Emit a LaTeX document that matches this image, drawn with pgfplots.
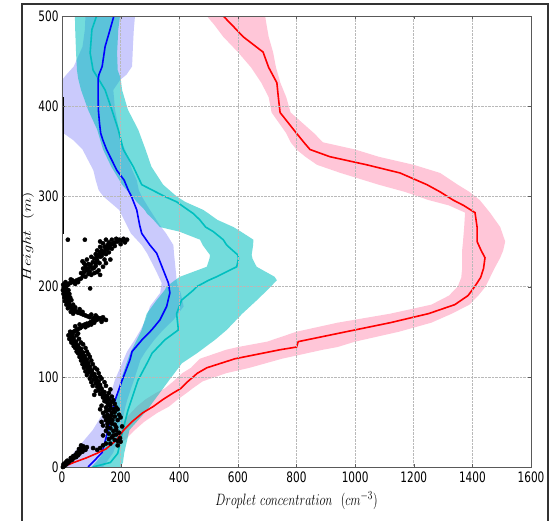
\documentclass[border=0pt]{standalone}
\usepackage{fontspec}
\usepackage{pgfplots}
\pgfplotsset{compat=1.18}
\usepackage{pgfplotstable}
\newfontfamily\dejavu{DejaVu Sans}
\definecolor{cy}{rgb}{0,0.75,0.75}
\definecolor{pinkband}{RGB}{255,198,216}
\definecolor{lav}{RGB}{202,202,252}

% mean profiles (y = height, c = concentration)
\pgfplotstableread{
y c
0 3
5 40
10 82
15 118
20 150
25 168
30 186
40 208
50 238
60 275
67 311
75 345
82 379
87 405
95 430
104 462
110 494
120 590
130 744
133 800
139 806
150 970
160 1120
170 1250
180 1340
190 1385
200 1408
210 1428
220 1438
232 1443
240 1430
250 1416
266 1416
282 1409
290 1370
296 1334
305 1290
313 1245
326 1153
335 1040
344 914
352 846
360 825
370 800
393 744
410 738
426 733
443 705
460 686
477 618
490 580
500 550
}\redtab

\pgfplotstableread{
y c
0 89
16 137
41 157
65 174
74 181
96 205
119 232
128 239
141 273
152 306
163 334
178 357
193 368
204 363
218 346
237 323
246 300
259 272
268 265
285 255
300 237
307 226
318 212
329 187
352 152
362 140
370 132
381 128
396 124
418 123
429 123
435 126
444 137
466 147
485 164
500 177
}\bluetab

\pgfplotstableread{
y c
0 105
5 165
15 190
41 208
63 225
96 259
115 290
126 307
141 351
152 397
170 391
185 408
196 448
200 460
207 500
211 528
222 596
231 602
235 600
246 562
252 550
261 516
266 490
274 470
281 448
285 430
294 391
300 350
313 272
333 243
352 209
374 192
396 170
418 147
431 123
440 106
459 96
485 102
500 118
}\cyantab

% spread bands: lower bound upwards, then upper bound downwards
\pgfplotstableread{
x y
0 0
15 5
50 10
85 15
120 20
145 25
160 30
185 40
205 50
235 60
255 67
285 75
320 82
350 87
380 95
410 104
440 110
470 120
560 130
600 133
700 139
800 150
940 160
1120 170
1260 180
1320 190
1350 200
1362 210
1365 220
1365 232
1365 240
1368 250
1372 266
1375 282
1320 290
1250 296
1170 305
1080 313
950 326
870 335
830 344
800 352
780 360
765 370
715 393
705 410
680 426
645 443
600 460
550 477
520 490
494 500
693 500
698 490
705 477
720 460
730 443
745 426
765 410
780 393
860 370
890 360
1000 352
1080 344
1200 335
1290 326
1350 313
1390 305
1425 296
1440 290
1460 282
1495 266
1512 250
1505 240
1495 232
1475 220
1460 210
1445 200
1420 190
1390 180
1330 170
1260 160
1150 150
1000 139
940 133
890 130
750 120
640 110
560 104
480 95
445 87
425 82
395 75
365 67
325 60
280 50
245 40
215 30
195 25
175 20
150 15
115 10
70 5
15 0
}\redband

\pgfplotstableread{
x y
0 0
40 16
105 41
150 65
160 74
180 96
210 119
222 128
248 141
268 152
285 163
300 178
335 193
340 204
320 218
290 237
272 246
235 259
221 268
195 285
141 300
125 307
115 318
107 329
70 352
40 362
5 370
0 381
0 396
0 418
0 429
15 435
40 444
70 466
78 485
80 500
249 500
245 485
242 466
239 444
220 435
198 429
175 418
181 396
190 381
194 370
200 362
215 352
240 329
255 318
262 307
272 300
300 285
334 268
355 259
380 246
382 237
388 218
392 204
405 193
415 178
380 163
345 152
315 141
285 128
268 119
245 96
222 74
215 65
200 41
175 16
140 0
}\blueband

\pgfplotstableread{
x y
100 0
115 5
140 15
160 41
175 63
200 96
220 115
232 126
255 141
272 152
289 170
323 185
350 196
357 200
385 207
403 211
494 222
503 231
505 235
480 246
471 252
400 261
334 266
312 274
290 281
282 285
255 294
240 300
205 313
168 333
140 352
120 374
89 396
65 418
55 431
51 440
48 459
45 485
44 500
198 500
192 485
188 459
190 440
200 431
205 418
225 396
260 374
285 352
305 333
345 313
391 300
420 294
482 285
500 281
530 274
585 266
610 261
653 252
652 246
647 235
650 231
664 222
725 211
733 207
712 200
700 196
665 185
615 170
562 152
522 141
460 126
409 115
365 96
290 63
230 41
212 15
208 5
200 0
}\cyanband

% observed droplet concentration (black dots)
\pgfplotstableread{
x y
3 0
8 1
5 3
15 3
12 5
22 5
18 7
28 7
35 8
30 10
40 10
48 11
38 12
45 13
55 13
50 15
60 15
52 16
62 18
70 17
58 20
68 21
75 21
80 19
65 24
72 23
85 22
106 21
130 21
120 19
140 24
150 26
165 26
190 24
200 28
180 30
190 29
198 32
170 33
160 31
185 36
175 35
160 37
195 38
175 40
150 40
185 41
165 43
185 44
155 44
140 46
155 48
170 48
180 47
150 52
160 51
172 52
165 54
155 55
180 56
168 57
155 58
170 60
180 61
160 63
150 62
175 64
165 65
150 66
165 68
158 69
155 71
168 72
145 73
152 74
160 75
148 76
140 77
155 78
150 79
138 80
130 81
145 83
138 84
125 85
135 87
128 88
120 89
130 91
122 92
115 93
125 95
118 96
108 97
118 99
112 100
100 101
110 103
104 104
92 105
102 107
95 108
88 109
95 111
86 112
80 113
90 115
82 116
75 117
85 119
78 120
70 121
78 123
70 124
62 125
72 127
64 128
55 129
65 131
58 132
48 133
55 135
46 136
38 137
48 139
40 140
30 141
40 143
33 144
28 145
36 147
30 148
35 149
45 151
40 150
50 152
55 153
62 154
65 155
72 157
78 158
85 159
95 160
100 161
105 162
112 163
118 163
125 164
130 165
142 164
150 163
120 166
108 165
95 166
88 167
80 168
72 169
65 170
60 171
55 171
50 172
45 173
40 174
35 175
30 177
28 178
25 179
20 181
24 182
18 184
22 186
15 188
20 190
12 192
18 194
8 196
14 198
6 199
10 200
16 201
20 202
22 203
28 204
35 205
40 205
46 206
51 207
35 207
30 208
12 205
8 203
96 198
72 212
80 211
100 213
130 213
119 216
110 215
85 218
95 217
72 220
80 221
96 222
105 220
110 221
140 222
80 224
90 225
98 224
150 226
105 227
115 226
70 228
120 229
165 230
110 231
118 232
130 233
125 235
135 234
140 237
130 238
135 240
145 239
150 241
160 243
155 242
145 244
165 246
155 246
175 248
168 247
160 249
190 250
180 249
205 251
215 249
222 252
185 253
195 252
150 252
170 252
20 252
78 252
135 50
145 56
190 52
195 58
190 64
140 60
135 68
180 70
185 66
140 35
205 45
200 55
130 64
175 74
170 78
110 80
115 84
160 82
165 86
105 90
150 90
100 94
145 94
95 98
135 98
130 100
85 102
125 104
80 106
120 108
75 110
112 110
70 114
105 114
65 118
100 118
60 122
95 122
90 125
55 126
50 128
85 128
45 132
80 132
40 134
72 136
32 138
65 138
25 142
58 142
22 146
50 146
28 150
55 148
45 156
80 155
60 158
90 157
100 158
110 160
135 161
140 166
115 168
100 169
38 170
70 172
30 172
60 175
20 176
45 177
15 180
38 180
10 184
32 185
8 188
28 188
5 192
25 192
3 196
22 196
4 202
45 203
55 205
58 208
65 209
65 215
90 214
75 216
125 218
88 220
115 223
75 226
128 226
85 230
100 233
145 230
115 236
150 236
120 240
160 238
130 244
170 242
140 248
180 245
200 247
210 253
130 250
}\obstab

\begin{document}
\begin{tikzpicture}
\path[use as bounding box] (-62pt,-53pt) rectangle (494pt,467pt);
\draw[black!80, line width=1.3pt] (-40pt,-70pt) -- (-40pt,463pt) -- (486pt,463pt) -- (486pt,-70pt);
\begin{axis}[
  at={(0pt,0pt)}, anchor=south west,
  scale only axis, width=469pt, height=451pt,
  xmin=0, xmax=1600, ymin=0, ymax=500,
  xtick={0,200,400,600,800,1000,1200,1400,1600},
  ytick={0,100,200,300,400,500},
  grid=major,
  major grid style={densely dotted, gray!55, line width=0.6pt},
  axis line style={black!65, line width=0.9pt},
  tick align=inside, major tick length=3pt, tick style={black!65},
  tick label style={font=\dejavu\fontsize{10.5}{12}\selectfont, yscale=1.37},
  /pgf/number format/assume math mode=true,
  /pgf/number format/1000 sep={},
  xlabel={$Droplet\ concentration\ \ (cm^{-3})$},
  ylabel={$Height\ \ (m)$},
  label style={font=\fontsize{12.8}{14}\selectfont},
  xlabel style={at={(axis description cs:0.5,-0.074)}, anchor=center, yscale=1.37},
  ylabel style={at={(axis description cs:-0.0725,0.51)}, anchor=center, xscale=1.37},
  axis on top,
]
% bands
\addplot[fill=pinkband, draw=none, forget plot] table[x=x, y=y] {\redband};
\addplot[fill=lav, draw=none, forget plot] table[x=x, y=y] {\blueband};
\addplot[fill=cy, fill opacity=0.55, draw=none, forget plot] table[x=x, y=y] {\cyanband};
% observations
\addplot[black, line width=2pt, forget plot] coordinates {(3,258) (3,410)};
\addplot[only marks, mark=*, mark size=2.1pt, black, forget plot] table[x=x, y=y] {\obstab};
% mean profiles
\addplot[cy, line width=1.6pt, forget plot] table[x=c, y=y] {\cyantab};
\addplot[blue, line width=1.6pt, forget plot] table[x=c, y=y] {\bluetab};
\addplot[red, line width=1.6pt, forget plot] table[x=c, y=y] {\redtab};
\end{axis}
\end{tikzpicture}
\end{document}
